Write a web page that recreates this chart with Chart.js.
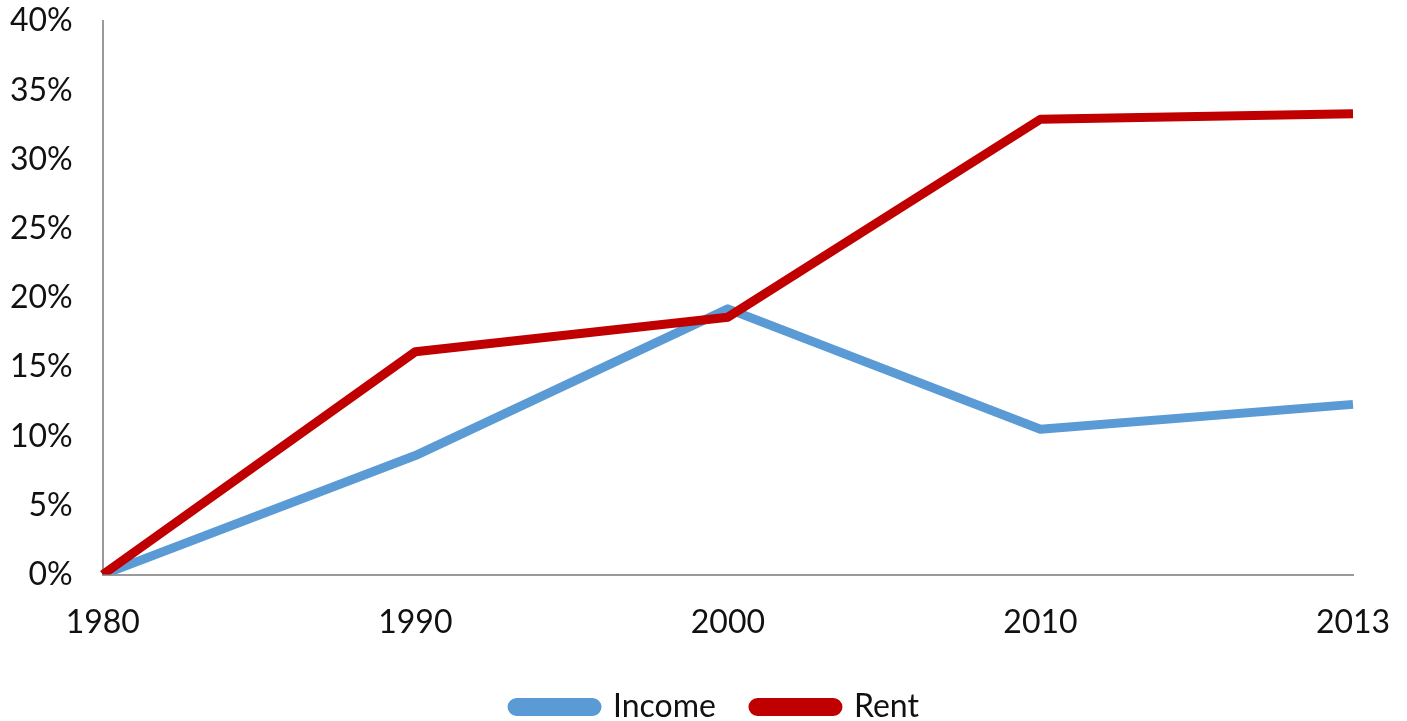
<!DOCTYPE html>
<html>
<head>
<meta charset="utf-8">
<script src="https://cdn.jsdelivr.net/npm/chart.js@4/dist/chart.umd.min.js"></script>
<style>
  html, body { margin: 0; padding: 0; background: #ffffff; }
  #wrap { width: 1407px; height: 721px; }
</style>
</head>
<body>
<div id="wrap"><canvas id="chart" width="1407" height="721"></canvas></div>
<script>
// Cumulative growth since 1980, in percent
const years = ['1980', '1990', '2000', '2010', '2013'];
const income = [0, 8.6, 19.2, 10.5, 12.3];
const rent = [0, 16.1, 18.6, 32.9, 33.3];
const yMin = 0;
const yMax = 40;
const yStep = 5;

const FONT = { family: 'Lato, "Liberation Sans", sans-serif', size: 32 };
const AXIS_GREY = '#9a9a9a';
const LEGEND_SHIFT_X = 34;

// invisible tick marks give the gap between axis line and its labels
const gapGrid = len => ({
  display: true,
  drawOnChartArea: false,
  drawTicks: true,
  tickLength: len,
  color: 'rgba(0,0,0,0)'
});

// nudges the legend row to the right of the canvas centre
const legendOffset = {
  id: 'legendOffset',
  afterLayout(chart) {
    const lg = chart.legend;
    if (lg) {
      lg.left += LEGEND_SHIFT_X;
      lg.right += LEGEND_SHIFT_X;
    }
  }
};

new Chart(document.getElementById('chart'), {
  type: 'line',
  data: {
    labels: years,
    datasets: [
      {
        label: 'Income',
        data: income,
        borderColor: '#5b9bd5',
        backgroundColor: '#5b9bd5',
        borderWidth: 9,
        pointRadius: 0,
        tension: 0,
        borderJoinStyle: 'round',
        order: 1
      },
      {
        label: 'Rent',
        data: rent,
        borderColor: '#c00000',
        backgroundColor: '#c00000',
        borderWidth: 9,
        pointRadius: 0,
        tension: 0,
        borderJoinStyle: 'round',
        order: 0
      }
    ]
  },
  plugins: [legendOffset],
  options: {
    responsive: false,
    animation: false,
    layout: { autoPadding: false, padding: { left: 10, right: 54, top: 21, bottom: -12 } },
    plugins: {
      tooltip: { enabled: false },
      legend: {
        position: 'bottom',
        labels: {
          sort: (a, b) => a.datasetIndex - b.datasetIndex,
          boxWidth: 85,
          boxHeight: 9,
          useBorderRadius: true,
          borderRadius: 4.5,
          font: FONT,
          color: '#111',
          padding: 37
        }
      }
    },
    scales: {
      x: {
        type: 'category',
        offset: false,
        grid: gapGrid(29),
        border: { display: true, color: AXIS_GREY, width: 2 },
        ticks: { font: FONT, color: '#111', padding: 0, maxRotation: 0 },
        afterFit: scale => { scale.height += 12; }
      },
      y: {
        min: yMin,
        max: yMax,
        grid: gapGrid(30),
        border: { display: true, color: AXIS_GREY, width: 2 },
        ticks: {
          stepSize: yStep,
          font: FONT,
          color: '#111',
          padding: 0,
          callback: v => v + '%'
        }
      }
    }
  }
});
</script>
</body>
</html>
